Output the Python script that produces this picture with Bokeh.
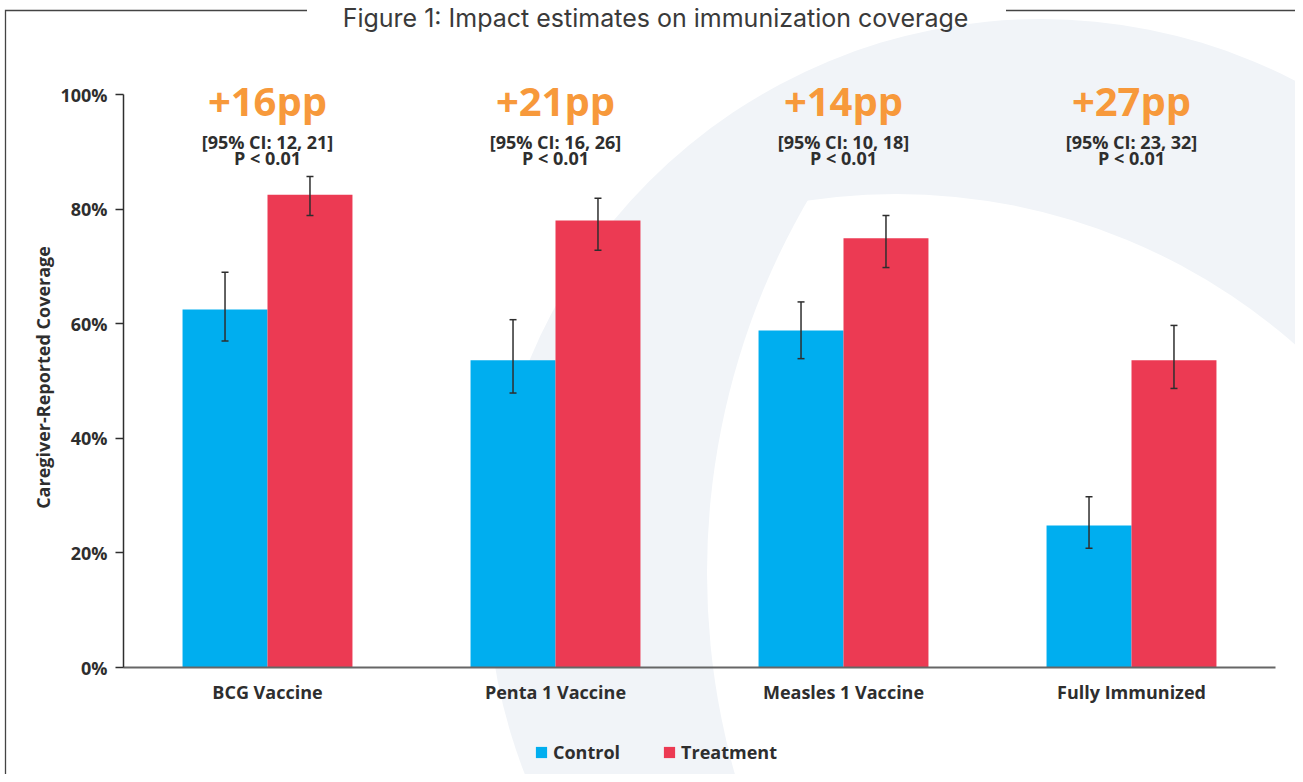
import numpy as np
from urllib.parse import quote
from bokeh.plotting import figure
from bokeh.layouts import column
from bokeh.models import (ColumnDataSource, FixedTicker, PrintfTickFormatter, Whisker, TeeHead,
                          LabelSet, Label, Legend, LegendItem)
from bokeh.core.properties import value
from bokeh.embed import file_html
from bokeh.resources import INLINE

# ---------------- data ----------------
categories = ["BCG Vaccine", "Penta 1 Vaccine", "Measles 1 Vaccine", "Fully Immunized"]
control = [62.5, 53.6, 58.8, 24.8]
control_lo = [57.0, 47.9, 53.9, 20.8]
control_hi = [69.0, 60.7, 63.8, 29.8]
treatment = [82.5, 78.0, 74.9, 53.6]
treatment_lo = [78.9, 72.8, 69.8, 48.7]
treatment_hi = [85.7, 81.9, 78.9, 59.7]
effects = ["+16pp", "+21pp", "+14pp", "+27pp"]
ci_labels = ["[95% CI: 12, 21]", "[95% CI: 16, 26]", "[95% CI: 10, 18]", "[95% CI: 23, 32]"]
p_labels = ["P < 0.01", "P < 0.01", "P < 0.01", "P < 0.01"]
y_ticks = [0, 20, 40, 60, 80, 100]
title_text = "Figure 1: Impact estimates on immunization coverage"
series_names = ["Control", "Treatment"]

BLUE = "#00AEEF"
RED = "#EC3A53"
ORANGE = "#F7993B"
DARK = "#2E2E2E"
FONT = "Open Sans"

W, H = 1295, 774
T_STRIP = 40                  # title strip height
L_STRIP = 54                  # legend strip height
H_MAIN = H - T_STRIP - L_STRIP
ML, MR, MB = 123, 20, 53
FRAME_TOP = 87                # page row where the plotting frame starts
AXIS_TOP = 94                 # page row of the 100% tick
AXIS_BOT = 667                # page row of the 0% line
MT = FRAME_TOP - T_STRIP
Y_MAX = 100 * (AXIS_BOT - FRAME_TOP) / (AXIS_BOT - AXIS_TOP)
BAR_W = 0.295

idx = np.arange(len(categories))
src_c = ColumnDataSource(dict(x=idx - BAR_W / 2, top=control, lo=control_lo, hi=control_hi))
src_t = ColumnDataSource(dict(x=idx + BAR_W / 2, top=treatment, lo=treatment_lo, hi=treatment_hi))
src_lab = ColumnDataSource(dict(x=idx, y=[100] * len(idx), eff=effects, ci=ci_labels, p=p_labels))

# ornamental page background (faint crescent + frame lines)
deco = ("<svg xmlns='http://www.w3.org/2000/svg' width='%d' height='%d'>"
        "<defs><clipPath id='k'><circle cx='896' cy='798' r='604'/></clipPath></defs>"
        "<circle cx='1041' cy='573' r='554' fill='#F1F4F8'/>"
        "<circle cx='1447' cy='573' r='740' fill='white' clip-path='url(#k)'/>"
        "<path d='M5.5 %d V10.5 H307 M1006 10.5 H%d' fill='none' stroke='#444' stroke-width='1.3'/>"
        "</svg>") % (W, H, H, W)
deco_url = 'url("data:image/svg+xml,%s")' % quote(deco)


def strip(height):
    f = figure(width=W, height=height, output_backend="svg", toolbar_location=None, title=None,
               x_range=(0, 1), y_range=(0, 1), x_axis_location=None, y_axis_location=None,
               min_border_left=0, min_border_right=0, min_border_top=0, min_border_bottom=0)
    f.background_fill_alpha = 0
    f.border_fill_alpha = 0
    f.outline_line_color = None
    f.xgrid.visible = False
    f.ygrid.visible = False
    return f


# ---------------- title strip ----------------
ts = strip(T_STRIP)
ts.add_layout(Label(x=655 - ML, y=T_STRIP - 17, x_units="screen", y_units="screen", text=title_text,
                    text_align="center", text_baseline="alphabetic", text_font="Inter",
                    text_font_size="25px", text_color="#3A3A3A"))

# ---------------- main chart ----------------
p = figure(width=W, height=H_MAIN, output_backend="svg", toolbar_location=None, title=None,
           x_range=(-0.5, len(categories) - 0.5), y_range=(0, Y_MAX),
           min_border_left=ML, min_border_right=MR, min_border_top=MT, min_border_bottom=MB)
p.background_fill_alpha = 0
p.border_fill_alpha = 0
p.outline_line_color = None
p.xgrid.visible = False
p.ygrid.visible = False

r_c = p.vbar(x="x", top="top", width=BAR_W, bottom=0, source=src_c, fill_color=BLUE, line_color=None)
r_t = p.vbar(x="x", top="top", width=BAR_W, bottom=0, source=src_t, fill_color=RED, line_color=None)

for src in (src_c, src_t):
    p.add_layout(Whisker(source=src, base="x", upper="hi", lower="lo", line_color=DARK, line_width=1.5,
                         level="annotation",
                         upper_head=TeeHead(size=7, line_color=DARK, line_width=1.5),
                         lower_head=TeeHead(size=7, line_color=DARK, line_width=1.5)))

p.add_layout(LabelSet(x="x", y="y", text="eff", source=src_lab, y_offset=-21, text_align="center",
                      text_baseline="alphabetic", text_font=value(FONT), text_font_style="bold",
                      text_font_size="40px", text_color=ORANGE))
p.add_layout(LabelSet(x="x", y="y", text="ci", source=src_lab, y_offset=-54, text_align="center",
                      text_baseline="alphabetic", text_font=value(FONT), text_font_style="bold",
                      text_font_size="18px", text_color=DARK))
p.add_layout(LabelSet(x="x", y="y", text="p", source=src_lab, y_offset=-70, text_align="center",
                      text_baseline="alphabetic", text_font=value(FONT), text_font_style="bold",
                      text_font_size="18px", text_color=DARK))

yax = p.yaxis[0]
yax.bounds = (0, 100)
yax.ticker = FixedTicker(ticks=y_ticks)
yax.formatter = PrintfTickFormatter(format="%d%%")
yax.axis_line_color = DARK
yax.axis_line_width = 1.5
yax.major_tick_line_color = DARK
yax.major_tick_line_width = 1.5
yax.major_tick_in = 0
yax.major_tick_out = 8
yax.minor_tick_line_color = None
yax.major_label_standoff = 8
yax.major_label_text_font = FONT
yax.major_label_text_font_style = "bold"
yax.major_label_text_font_size = "18px"
yax.major_label_text_color = DARK
yax.axis_label = "Caregiver-Reported Coverage"
yax.axis_label_text_font = FONT
yax.axis_label_text_font_style = "bold"
yax.axis_label_text_font_size = "18px"
yax.axis_label_text_color = DARK
yax.axis_label_standoff = 2

xax = p.xaxis[0]
xax.ticker = FixedTicker(ticks=list(idx))
xax.major_label_overrides = {int(i): c for i, c in zip(idx, categories)}
xax.axis_line_color = "#666666"
xax.axis_line_width = 2
xax.major_tick_line_color = None
xax.minor_tick_line_color = None
xax.major_label_standoff = 6
xax.major_label_text_font = FONT
xax.major_label_text_font_style = "bold"
xax.major_label_text_font_size = "18px"
xax.major_label_text_color = DARK

# ---------------- legend strip ----------------
lg = strip(L_STRIP)
proxy = dict(x=[0.5], top=[0.0])   # zero-height legend proxies
k_c = lg.vbar(x="x", top="top", width=0.01, source=ColumnDataSource(proxy), fill_color=BLUE, line_color=None)
k_t = lg.vbar(x="x", top="top", width=0.01, source=ColumnDataSource(proxy), fill_color=RED, line_color=None)
legend = Legend(items=[LegendItem(label=series_names[0], renderers=[k_c]),
                       LegendItem(label=series_names[1], renderers=[k_t])],
                orientation="horizontal", location=(534 - ML, 10), border_line_color=None,
                background_fill_alpha=0, glyph_width=14, glyph_height=14, label_standoff=5,
                label_height=14, spacing=42, label_text_font=FONT, label_text_font_style="bold",
                label_text_font_size="18px", label_text_color=DARK, margin=0, padding=0)
lg.add_layout(legend, "center")

layout = column(ts, p, lg, spacing=0)
layout.styles = {"background-image": deco_url, "background-repeat": "no-repeat",
                 "background-color": "white"}

open("out.html", "w").write(file_html(layout, INLINE))
